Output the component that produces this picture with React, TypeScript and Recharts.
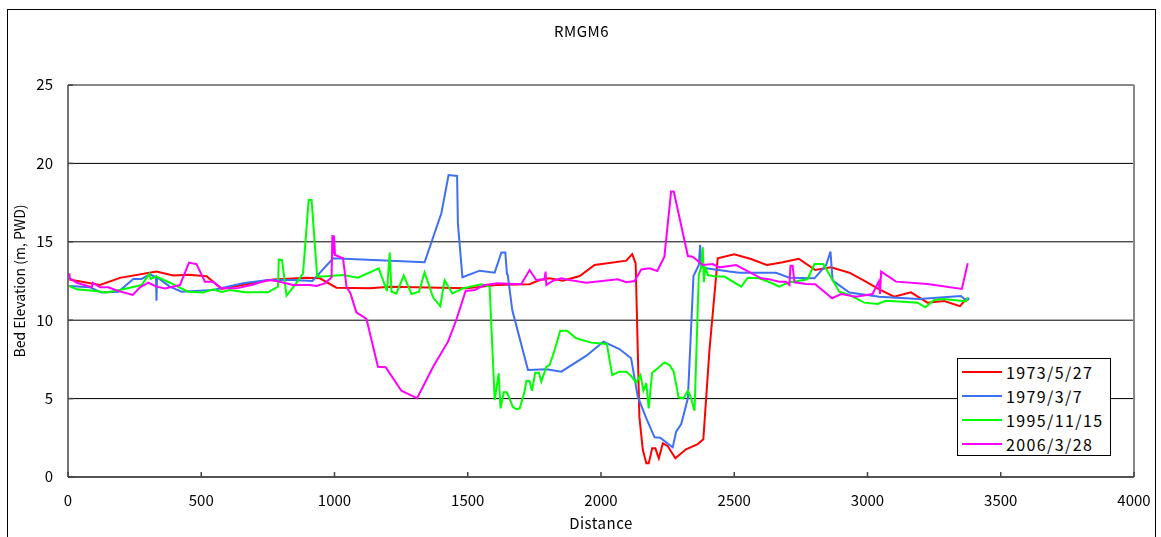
import { LineChart, Line, XAxis, YAxis, CartesianGrid, Legend, ReferenceLine } from 'recharts';

// [distance, bed elevation] pairs
const s1973: [number, number][] = [
    [5, 12.6], [120, 12.25], [195, 12.7], [332, 13.1], [395, 12.85], [451, 12.9], [520, 12.8], [576, 12.0],
    [770, 12.6], [895, 12.7], [945, 12.67], [1007, 12.07], [1132, 12.03], [1207, 12.14], [1495, 12.03],
    [1607, 12.24], [1732, 12.29], [1770, 12.56], [1807, 12.67], [1857, 12.52], [1920, 12.82], [1976, 13.52],
    [2095, 13.8], [2117, 14.22], [2130, 13.63], [2138, 8.1], [2144, 3.85], [2157, 1.72], [2170, 0.87],
    [2179, 0.87], [2192, 1.83], [2204, 1.83], [2217, 1.19], [2232, 2.15], [2250, 1.98], [2279, 1.19],
    [2319, 1.77], [2363, 2.1], [2384, 2.4], [2407, 8.1], [2438, 13.95], [2500, 14.2], [2563, 13.9],
    [2622, 13.52], [2682, 13.69], [2742, 13.92], [2804, 13.2], [2863, 13.37], [2932, 13.03], [2994, 12.46],
    [3044, 11.97], [3100, 11.5], [3163, 11.78], [3225, 11.12], [3288, 11.22], [3347, 10.9], [3369, 11.33],
    [3380, 11.3],
];

const s1979: [number, number][] = [
    [5, 12.18], [82, 12.1], [126, 11.76], [189, 11.82], [245, 12.63], [276, 12.63], [307, 12.93], [326, 12.78],
    [330, 12.8], [332, 11.24], [334, 12.75], [382, 12.14], [426, 11.82], [545, 11.93], [657, 12.35],
    [745, 12.56], [845, 12.56], [917, 12.5], [995, 13.95], [1338, 13.69], [1401, 16.82], [1428, 19.26],
    [1460, 19.2], [1463, 16.18], [1480, 12.74], [1545, 13.16], [1601, 13.03], [1626, 14.31], [1641, 14.31],
    [1647, 12.95], [1650, 12.9], [1667, 10.65], [1726, 6.82], [1795, 6.87], [1851, 6.72], [1944, 7.72],
    [2009, 8.63], [2069, 8.16], [2113, 7.57], [2138, 5.12], [2170, 3.74], [2201, 2.53], [2222, 2.51],
    [2269, 1.89], [2282, 2.89], [2301, 3.38], [2326, 5.02], [2347, 12.82], [2367, 13.52], [2372, 14.8],
    [2376, 13.5], [2394, 13.31], [2482, 13.1], [2519, 13.03], [2657, 13.03], [2707, 12.71], [2801, 12.67],
    [2845, 13.52], [2861, 14.37], [2869, 12.56], [2875, 12.46], [2932, 11.76], [3044, 11.5], [3194, 11.35],
    [3350, 11.54], [3369, 11.29], [3382, 11.4],
];

const s1995: [number, number][] = [
    [5, 12.18], [33, 11.97], [95, 11.88], [145, 11.76], [207, 11.97], [276, 12.24], [305, 12.95], [310, 12.63],
    [332, 12.78], [382, 12.39], [451, 11.82], [507, 11.76], [545, 11.97], [576, 11.8], [607, 11.93],
    [664, 11.78], [751, 11.78], [788, 12.14], [791, 13.88], [803, 13.84], [820, 11.56], [851, 12.24],
    [882, 12.99], [903, 17.67], [914, 17.67], [935, 12.78], [970, 12.8], [1032, 12.88], [1088, 12.71],
    [1166, 13.31], [1197, 11.86], [1207, 14.31], [1214, 11.82], [1232, 11.71], [1260, 12.84], [1289, 11.67],
    [1317, 11.82], [1338, 13.05], [1370, 11.44], [1397, 10.9], [1413, 12.56], [1442, 11.71], [1482, 12.03],
    [1551, 12.29], [1582, 12.14], [1601, 4.91], [1616, 6.61], [1623, 4.38], [1635, 5.4], [1647, 5.4],
    [1669, 4.48], [1682, 4.32], [1695, 4.38], [1713, 5.44], [1720, 6.12], [1732, 6.12], [1741, 5.5],
    [1753, 6.65], [1767, 6.65], [1776, 6.08], [1795, 7.03], [1807, 7.14], [1826, 8.1], [1847, 9.33],
    [1872, 9.33], [1907, 8.85], [1963, 8.57], [2022, 8.48], [2042, 6.5], [2069, 6.72], [2095, 6.72],
    [2113, 6.44], [2132, 6.02], [2148, 6.5], [2159, 5.5], [2170, 5.98], [2179, 4.38], [2192, 6.65],
    [2213, 6.93], [2238, 7.31], [2257, 7.14], [2273, 6.72], [2291, 5.08], [2309, 5.02], [2326, 5.5],
    [2336, 5.12], [2351, 4.23], [2367, 12.88], [2376, 13.41], [2382, 14.65], [2386, 12.42], [2391, 13.4],
    [2401, 12.88], [2432, 12.78], [2463, 12.78], [2526, 12.14], [2551, 12.71], [2594, 12.67], [2638, 12.39],
    [2669, 12.14], [2700, 12.39], [2775, 12.61], [2801, 13.58], [2834, 13.58], [2869, 12.56], [2894, 11.82],
    [2932, 11.61], [2988, 11.12], [3038, 11.03], [3069, 11.24], [3132, 11.18], [3188, 11.12], [3217, 10.82],
    [3250, 11.29], [3282, 11.35], [3351, 11.24], [3369, 11.2], [3376, 11.46],
];

const s2006: [number, number][] = [
    [5, 12.99], [7, 12.67], [33, 12.39], [89, 12.1], [93, 12.39], [120, 12.1], [151, 12.1], [189, 11.86],
    [243, 11.61], [270, 12.1], [301, 12.39], [332, 12.14], [364, 12.03], [420, 12.24], [454, 13.67],
    [482, 13.58], [514, 12.46], [545, 12.46], [576, 12.03], [632, 12.03], [689, 12.24], [751, 12.56],
    [782, 12.5], [845, 12.24], [907, 12.24], [932, 12.18], [964, 12.35], [989, 12.74], [992, 15.43],
    [995, 14.22], [998, 15.4], [1002, 14.16], [1032, 13.95], [1045, 12.14], [1060, 11.71], [1082, 10.5],
    [1120, 10.08], [1163, 7.03], [1192, 7.0], [1251, 5.5], [1310, 5.02], [1370, 7.03], [1426, 8.63],
    [1457, 10.01], [1492, 11.86], [1526, 11.93], [1563, 12.24], [1613, 12.35], [1676, 12.31], [1701, 12.31],
    [1732, 13.2], [1757, 12.56], [1788, 12.61], [1792, 13.1], [1795, 12.24], [1820, 12.52], [1851, 12.67],
    [1882, 12.56], [1944, 12.39], [2063, 12.61], [2095, 12.42], [2126, 12.5], [2151, 13.24], [2182, 13.31],
    [2211, 13.14], [2238, 14.05], [2263, 18.2], [2273, 18.2], [2326, 14.09], [2344, 14.05], [2382, 13.52],
    [2419, 13.58], [2444, 13.37], [2482, 13.46], [2507, 13.52], [2601, 12.67], [2632, 12.61], [2669, 12.46],
    [2694, 12.46], [2707, 12.24], [2711, 13.48], [2719, 13.48], [2726, 12.42], [2769, 12.31], [2804, 12.29],
    [2867, 11.4], [2901, 11.67], [2957, 11.5], [3019, 11.67], [3042, 12.46], [3047, 11.67], [3051, 13.1],
    [3107, 12.46], [3225, 12.31], [3354, 11.99], [3369, 13.1], [3376, 13.63],
];

const xTicks = [0, 500, 1000, 1500, 2000, 2500, 3000, 3500, 4000];
const yTicks = [0, 5, 10, 15, 20, 25];

const series = [
    { name: '1973/5/27', color: '#ff0000', points: s1973 },
    { name: '1979/3/7', color: '#3f6ff2', points: s1979 },
    { name: '1995/11/15', color: '#00ff00', points: s1995 },
    { name: '2006/3/28', color: '#ff00ff', points: s2006 },
];

const font = '"Noto Sans CJK JP", "Noto Sans", sans-serif';

function LegendBox() {
    return (
        <div style={{
            width: 154, height: 98, boxSizing: 'border-box', border: '1px solid #000',
            background: '#fff', padding: '1px 0 0 4px', fontFamily: font,
        }}>
            {series.map((s) => (
                <div key={s.name} style={{ height: 24, display: 'flex', alignItems: 'center' }}>
                    <span style={{ display: 'inline-block', width: 40, height: 2, background: s.color, marginRight: 4 }} />
                    <span style={{ fontSize: 16, letterSpacing: 1.4, color: '#000' }}>{s.name}</span>
                </div>
            ))}
        </div>
    );
}

export default function App() {
    return (
        <div style={{ position: 'relative', width: 1147, height: 527, background: '#fff', fontFamily: font }}>
            {/* outer frame of the chart sheet */}
            <div style={{
                position: 'fixed', left: 7, top: 9, width: 1147, height: 600,
                border: '1px solid #000', pointerEvents: 'none',
            }} />
            <div style={{
                position: 'absolute', top: 12, left: 0, width: '100%', textAlign: 'center',
                fontSize: 15, color: '#000', letterSpacing: 0.5,
            }}>
                RMGM6
            </div>
            <LineChart width={1147} height={527} margin={{ top: 77, right: 21, left: 0, bottom: 0 }}>
                <CartesianGrid horizontal vertical={false} stroke="#000" strokeWidth={1} />
                <XAxis
                    type="number"
                    dataKey="x"
                    domain={[0, 4000]}
                    ticks={xTicks}
                    interval={0}
                    height={58}
                    tickSize={-5}
                    tickMargin={23}
                    stroke="#444"
                    strokeWidth={1.5}
                    tick={{ fill: '#000', fontSize: 15, fontFamily: font }}
                    label={{ value: 'Distance', position: 'insideBottom', offset: 6, fill: '#000', fontSize: 15, fontFamily: font, letterSpacing: 0.5 }}
                />
                <YAxis
                    type="number"
                    domain={[0, 25]}
                    ticks={yTicks}
                    interval={0}
                    width={60}
                    tickSize={-5}
                    tickMargin={20}
                    stroke="#444"
                    strokeWidth={1.5}
                    tick={{ fill: '#000', fontSize: 15, fontFamily: font }}
                    label={{
                        value: 'Bed Elevation (m, PWD)', angle: -90, position: 'insideLeft', offset: 12,
                        fill: '#000', fontSize: 14, fontFamily: font, style: { textAnchor: 'middle' },
                    }}
                />
                <ReferenceLine y={25} stroke="#888" strokeWidth={2} />
                <ReferenceLine x={4000} stroke="#888" strokeWidth={2} />
                {series.map((s) => (
                    <Line
                        key={s.name}
                        name={s.name}
                        data={s.points.map(([x, y]) => ({ x, y }))}
                        dataKey="y"
                        type="linear"
                        stroke={s.color}
                        strokeWidth={2}
                        dot={false}
                        activeDot={false}
                        isAnimationActive={false}
                    />
                ))}
                <Legend
                    layout="vertical"
                    align="center"
                    verticalAlign="middle"
                    content={() => <LegendBox />}
                    wrapperStyle={{ left: 949, top: 350, width: 154, height: 98 }}
                />
            </LineChart>
        </div>
    );
}
